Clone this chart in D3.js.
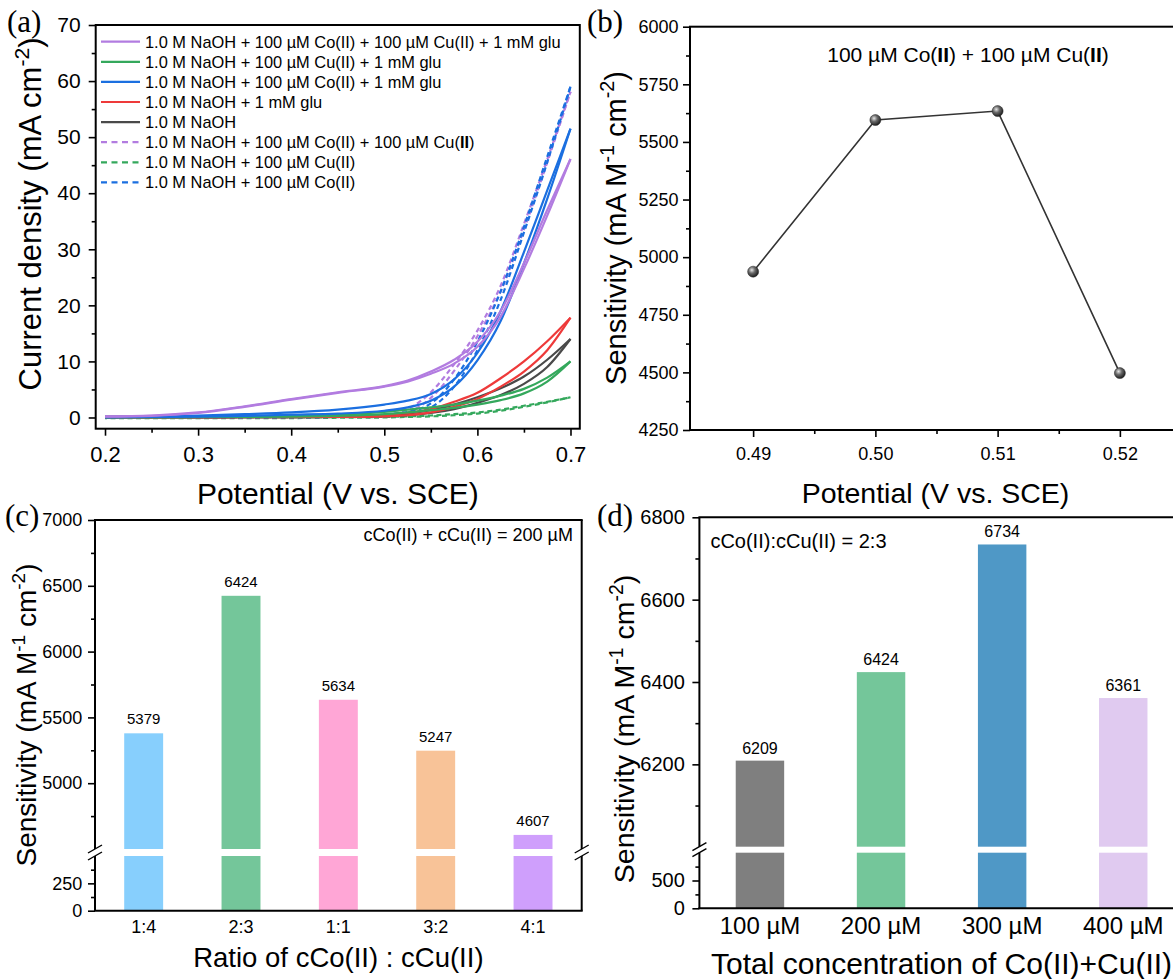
<!DOCTYPE html>
<html>
<head>
<meta charset="utf-8">
<script src="https://cdn.jsdelivr.net/npm/d3@7"></script>
<style>
  body { margin: 0; background: #fff; }
  svg { display: block; }
</style>
</head>
<body>
<svg id="fig" width="1173" height="979"></svg>
<script>
// ---------- data ----------
// (a) CV curves, current density (mA cm-2) at these potentials (V), forward + return sweep
const cvPotential = [0.2, 0.25, 0.3, 0.35, 0.4, 0.45, 0.5, 0.525, 0.55, 0.575, 0.6, 0.625, 0.65, 0.675, 0.7];
const coCuGluFwd = [0.2, 0.35, 0.9, 2.0, 3.3, 4.5, 5.6, 6.6, 8.2, 10.3, 13.5, 19.0, 27.5, 37.0, 46.1];
const coCuGluRev = [0.15, 0.3, 0.8, 1.9, 3.2, 4.4, 5.5, 6.4, 7.8, 9.6, 12.6, 18.0, 26.5, 36.0, 46.1];
const cuGluFwd   = [0.1, 0.1, 0.15, 0.2, 0.3, 0.5, 1.0, 1.4, 1.8, 2.3, 3.0, 3.9, 5.1, 7.1, 10.0];
const cuGluRev   = [0.0, 0.0, 0.05, 0.1, 0.15, 0.3, 0.6, 0.9, 1.3, 1.7, 2.3, 3.1, 4.3, 6.4, 10.0];
const coGluFwd   = [0.1, 0.2, 0.35, 0.6, 0.9, 1.4, 2.3, 3.0, 4.2, 6.8, 11.5, 19.0, 29.5, 40.5, 51.5];
const coGluRev   = [0.0, 0.1, 0.15, 0.3, 0.5, 0.7, 1.2, 1.8, 3.0, 5.5, 10.2, 17.2, 27.5, 39.0, 51.5];
const gluFwd     = [0.1, 0.1, 0.1, 0.1, 0.1, 0.15, 0.4, 0.8, 1.5, 2.8, 4.4, 7.0, 10.0, 13.6, 17.8];
const gluRev     = [0.0, 0.0, 0.0, 0.05, 0.05, 0.1, 0.2, 0.4, 0.9, 1.9, 3.3, 5.5, 8.2, 12.0, 17.8];
const naohFwd    = [0.1, 0.1, 0.1, 0.1, 0.1, 0.15, 0.4, 0.7, 1.3, 2.3, 3.6, 5.2, 7.3, 10.3, 14.0];
const naohRev    = [0.0, 0.0, 0.0, 0.05, 0.05, 0.1, 0.2, 0.4, 0.8, 1.5, 2.6, 4.0, 6.0, 9.0, 14.0];
const coCuFwd    = [0.05, 0.05, 0.05, 0.1, 0.1, 0.15, 0.4, 1.5, 4.5, 9.5, 15.5, 23.5, 34.5, 46.0, 58.1];
const coCuRev    = [0.0, 0.0, 0.0, 0.0, 0.05, 0.1, 0.25, 0.9, 3.5, 8.3, 14.5, 22.5, 33.5, 45.5, 58.1];
const cuFwd      = [0.0, 0.0, 0.0, 0.0, 0.0, 0.05, 0.1, 0.2, 0.35, 0.6, 0.9, 1.4, 2.1, 2.8, 3.6];
const cuRev      = [-0.1, -0.1, -0.1, -0.1, -0.1, -0.05, 0.0, 0.1, 0.2, 0.4, 0.7, 1.2, 1.9, 2.7, 3.6];
const coFwd      = [0.05, 0.05, 0.05, 0.1, 0.1, 0.15, 0.5, 1.0, 2.5, 6.8, 13.5, 22.5, 34.0, 46.5, 59.0];
const coRev      = [0.0, 0.0, 0.0, 0.0, 0.05, 0.1, 0.3, 0.7, 1.8, 5.5, 12.0, 21.0, 33.0, 45.5, 59.0];
const cvLegend = [
  '1.0 M NaOH + 100 µM Co(II) + 100 µM Cu(II) + 1 mM glu',
  '1.0 M NaOH + 100 µM Cu(II) + 1 mM glu',
  '1.0 M NaOH + 100 µM Co(II) + 1 mM glu',
  '1.0 M NaOH + 1 mM glu',
  '1.0 M NaOH',
  '1.0 M NaOH + 100 µM Co(II) + 100 µM Cu(**II**)',
  '1.0 M NaOH + 100 µM Cu(II)',
  '1.0 M NaOH + 100 µM Co(II)'
];
const aXTicks = [0.2, 0.3, 0.4, 0.5, 0.6, 0.7];
const aXMinor = [0.25, 0.35, 0.45, 0.55, 0.65];
const aYTicks = [0, 10, 20, 30, 40, 50, 60, 70];
const aYMinor = [5, 15, 25, 35, 45, 55, 65];

// (b) sensitivity vs potential
const bPotential = [0.49, 0.50, 0.51, 0.52];
const bSensitivity = [4937, 5595, 5634, 4497];
const bXTicks = [0.49, 0.50, 0.51, 0.52];
const bXMinor = [0.495, 0.505, 0.515, 0.525];
const bYTicks = [4250, 4500, 4750, 5000, 5250, 5500, 5750, 6000];
const bYMinor = [4375, 4625, 4875, 5125, 5375, 5625, 5875];

// (c) ratio bars
const ratioLabels = ['1:4', '2:3', '1:1', '3:2', '4:1'];
const ratioSensitivity = [5379, 6424, 5634, 5247, 4607];
const cUpperTicks = [5000, 5500, 6000, 6500, 7000];
const cUpperMinor = [4750, 5250, 5750, 6250, 6750];
const cLowerTicks = [0, 250];
const cLowerMinor = [125, 375];

// (d) total concentration bars
const concLabels = ['100 µM', '200 µM', '300 µM', '400 µM'];
const concSensitivity = [6209, 6424, 6734, 6361];
const dUpperTicks = [6200, 6400, 6600, 6800];
const dUpperMinor = [6100, 6300, 6500, 6700];
const dLowerTicks = [0, 500];
const dLowerMinor = [250, 750];

// ---------- styles ----------
const SANS = "'Liberation Sans', Arial, Helvetica, sans-serif";
const SERIF = "'Liberation Serif', 'Times New Roman', serif";
const PURPLE = '#b27ce0', GREEN = '#34a85c', BLUE = '#1b6fe0', RED = '#ee3a3a', GREY = '#4a4a4a';
const ratioColors = ['#87cffd', '#74c69a', '#ffa6d6', '#f8c398', '#cf9ffc'];
const concColors = ['#7f7f7f', '#74c69a', '#4f98c6', '#e0caf0'];

const svg = d3.select('#fig');

// text with **bold** and ^superscript^ markup
function addText(parent, x, y, str, size, opts = {}) {
  const t = parent.append('text')
    .attr('x', x).attr('y', y)
    .attr('font-size', size)
    .attr('font-family', opts.family || SANS)
    .attr('text-anchor', opts.anchor || 'start')
    .attr('fill', '#000');
  if (opts.rotate) t.attr('transform', `rotate(-90, ${x}, ${y})`);
  const parts = str.split(/(\*\*[^*]+\*\*|\^[^^]+\^)/).filter(s => s.length);
  let shift = 0;
  parts.forEach(p => {
    const s = t.append('tspan');
    if (p.startsWith('^')) {
      s.text(p.slice(1, -1)).attr('font-size', size * 0.68).attr('dy', -size * 0.4);
      shift = size * 0.4;
      return;
    }
    if (p.startsWith('**')) s.text(p.slice(2, -2)).attr('font-weight', 'bold');
    else s.text(p);
    if (shift) { s.attr('dy', shift); shift = 0; }
  });
  return t;
}

function axisTicks(g, axisFn, scale, tx, ty, values, len, fs, pad, fmt) {
  const ax = axisFn(scale).tickValues(values).tickSize(len).tickSizeOuter(0)
    .tickPadding(pad).tickFormat(fmt || '');
  const a = g.append('g').attr('transform', `translate(${tx},${ty})`).call(ax);
  a.select('.domain').remove();
  a.selectAll('line').attr('stroke', '#000').attr('stroke-width', 1.6);
  a.selectAll('text').attr('font-size', fs).attr('font-family', SANS).attr('fill', '#000');
  return a;
}

function seg(g, x1, y1, x2, y2, w) {
  g.append('line').attr('x1', x1).attr('y1', y1).attr('x2', x2).attr('y2', y2)
    .attr('stroke', '#000').attr('stroke-width', w || 2);
}

function breakMark(g, x, y) {
  seg(g, x - 7, y + 4, x + 7, y - 4, 1.4);
}

// ================= (a) =================
{
  const g = svg.append('g');
  const x = d3.scaleLinear().domain([0.19, 0.71]).range([95.7, 579.8]);
  const y = d3.scaleLinear().domain([-2, 70]).range([428.7, 25]);

  const series = [
    { fwd: cuFwd, rev: cuRev, color: GREEN, dash: true },
    { fwd: coCuFwd, rev: coCuRev, color: PURPLE, dash: true },
    { fwd: coFwd, rev: coRev, color: BLUE, dash: true },
    { fwd: naohFwd, rev: naohRev, color: GREY },
    { fwd: gluFwd, rev: gluRev, color: RED },
    { fwd: cuGluFwd, rev: cuGluRev, color: GREEN },
    { fwd: coGluFwd, rev: coGluRev, color: BLUE },
    { fwd: coCuGluFwd, rev: coCuGluRev, color: PURPLE }
  ];
  const line = d3.line().x(d => x(d[0])).y(d => y(d[1])).curve(d3.curveMonotoneX);
  series.forEach(s => {
    [s.fwd, s.rev].forEach((vals, k) => {
      g.append('path')
        .attr('d', line(cvPotential.map((v, i) => [v, vals[i]])))
        .attr('fill', 'none')
        .attr('stroke', s.color)
        .attr('stroke-width', 2.2)
        .attr('stroke-dasharray', s.dash ? '5,3.5' : null)
        .attr('stroke-dashoffset', s.dash ? k * 3 : null);
    });
  });

  g.append('rect').attr('x', 95.7).attr('y', 25).attr('width', 579.8 - 95.7).attr('height', 428.7 - 25)
    .attr('fill', 'none').attr('stroke', '#000').attr('stroke-width', 2);

  axisTicks(g, d3.axisBottom, x, 0, 428.7, aXTicks, 7, 22, 10.5, d => d.toFixed(1));
  axisTicks(g, d3.axisBottom, x, 0, 428.7, aXMinor, 4, 22, 0);
  axisTicks(g, d3.axisLeft, y, 95.7, 0, aYTicks, 7, 21, 8, d => d);
  axisTicks(g, d3.axisLeft, y, 95.7, 0, aYMinor, 4, 21, 0);

  // legend
  const legColors = [PURPLE, GREEN, BLUE, RED, GREY, PURPLE, GREEN, BLUE];
  cvLegend.forEach((lab, i) => {
    const ly = 41.7 + i * 20.1;
    g.append('line').attr('x1', 101).attr('x2', 140).attr('y1', ly).attr('y2', ly)
      .attr('stroke', legColors[i]).attr('stroke-width', 2.2)
      .attr('stroke-dasharray', i >= 5 ? '6,4.5' : null);
    addText(g, 145, ly + 5.8, lab, 16.4);
  });

  addText(g, 337.8, 504, 'Potential (V vs. SCE)', 30, { anchor: 'middle' });
  addText(g, 41, 214, 'Current density (mA cm^-2^)', 31, { anchor: 'middle', rotate: true });
  addText(g, 7, 32, '(a)', 31, { family: SERIF });
}

// ================= (b) =================
{
  const g = svg.append('g');
  const x = d3.scaleLinear().domain([0.485, 0.525]).range([692, 1181]);
  const y = d3.scaleLinear().domain([4250, 6000]).range([430, 26.7]);

  const grad = svg.append('defs').append('radialGradient').attr('id', 'ball')
    .attr('cx', '38%').attr('cy', '35%').attr('r', '65%');
  grad.append('stop').attr('offset', '0%').attr('stop-color', '#e6e6e6');
  grad.append('stop').attr('offset', '45%').attr('stop-color', '#6a6a6a');
  grad.append('stop').attr('offset', '100%').attr('stop-color', '#1e1e1e');

  const pts = bPotential.map((v, i) => [v, bSensitivity[i]]);
  g.append('path').attr('d', d3.line().x(d => x(d[0])).y(d => y(d[1]))(pts))
    .attr('fill', 'none').attr('stroke', '#333').attr('stroke-width', 1.6);
  g.selectAll('circle').data(pts).join('circle')
    .attr('cx', d => x(d[0])).attr('cy', d => y(d[1])).attr('r', 5.5)
    .attr('fill', 'url(#ball)').attr('stroke', '#222').attr('stroke-width', 0.5);

  g.append('rect').attr('x', 690).attr('y', 26.7).attr('width', 1181 - 690).attr('height', 430 - 26.7)
    .attr('fill', 'none').attr('stroke', '#000').attr('stroke-width', 2);

  axisTicks(g, d3.axisBottom, x, 0, 430, bXTicks, 7, 18, 10, d => d.toFixed(2));
  axisTicks(g, d3.axisBottom, x, 0, 430, bXMinor, 4, 18, 0);
  axisTicks(g, d3.axisLeft, y, 690, 0, bYTicks, 7, 18, 4.5, d => d);
  axisTicks(g, d3.axisLeft, y, 690, 0, bYMinor, 4, 18, 0);

  addText(g, 968, 61.5, '100 µM Co(**II**) + 100 µM Cu(**II**)', 21, { anchor: 'middle' });
  addText(g, 935.5, 503, 'Potential (V vs. SCE)', 28.5, { anchor: 'middle' });
  addText(g, 626, 228, 'Sensitivity (mA M^-1^ cm^-2^)', 29, { anchor: 'middle', rotate: true });
  addText(g, 587, 32, '(b)', 31, { family: SERIF });
}

// ============ broken-axis bar panel ============
function brokenBars(opt) {
  const g = svg.append('g');
  const x = d3.scaleBand().domain(opt.labels).range([opt.x0, opt.x1]).paddingInner(0.6).paddingOuter(0.3);
  const yU = d3.scaleLinear().domain(opt.upperDomain).range([opt.upperBottom, opt.top]);
  const yL = d3.scaleLinear().domain(opt.lowerDomain).range([opt.bottom, opt.lowerTop]);
  const rows = opt.labels.map((l, i) => ({ l, v: opt.values[i], c: opt.colors[i] }));

  g.selectAll('rect.up').data(rows).join('rect').attr('class', 'up')
    .attr('x', d => x(d.l)).attr('width', x.bandwidth())
    .attr('y', d => yU(d.v)).attr('height', d => yU(opt.upperDomain[0]) - yU(d.v))
    .attr('fill', d => d.c);
  g.selectAll('rect.lo').data(rows).join('rect').attr('class', 'lo')
    .attr('x', d => x(d.l)).attr('width', x.bandwidth())
    .attr('y', yL(opt.lowerDomain[1])).attr('height', yL(0) - yL(opt.lowerDomain[1]))
    .attr('fill', d => d.c);
  g.selectAll('text.val').data(rows).join('text').attr('class', 'val')
    .attr('x', d => x(d.l) + x.bandwidth() / 2).attr('y', d => yU(d.v) - opt.valGap)
    .attr('text-anchor', 'middle').attr('font-family', SANS).attr('font-size', opt.valSize)
    .text(d => d.v);

  // frame
  seg(g, opt.x0 - 1, opt.top, opt.xr + 1, opt.top);
  seg(g, opt.x0 - 1, opt.bottom, opt.xr + 1, opt.bottom);
  [opt.x0, opt.xr].forEach(xx => {
    seg(g, xx, opt.top, xx, opt.upperBottom);
    seg(g, xx, opt.lowerTop, xx, opt.bottom);
    breakMark(g, xx, opt.upperBottom);
    breakMark(g, xx, opt.lowerTop);
  });

  axisTicks(g, d3.axisLeft, yU, opt.x0, 0, opt.upperTicks, 7, opt.yFs, opt.yPad, d => d);
  axisTicks(g, d3.axisLeft, yU, opt.x0, 0, opt.upperMinor, 4, opt.yFs, 0);
  axisTicks(g, d3.axisLeft, yL, opt.x0, 0, opt.lowerTicks, 7, opt.yFs, opt.yPad, d => d);
  axisTicks(g, d3.axisLeft, yL, opt.x0, 0, opt.lowerMinor, 4, opt.yFs, 0);
  axisTicks(g, d3.axisBottom, x, 0, opt.bottom, opt.labels, 0, opt.xFs, opt.xPad, d => d);
  return g;
}

// ================= (c) =================
{
  const g = brokenBars({
    labels: ratioLabels, values: ratioSensitivity, colors: ratioColors,
    x0: 95, x1: 581.7, xr: 581.7, top: 520, upperBottom: 849, lowerTop: 856, bottom: 910.7,
    upperDomain: [4500, 7000], lowerDomain: [0, 500],
    upperTicks: cUpperTicks, upperMinor: cUpperMinor, lowerTicks: cLowerTicks, lowerMinor: cLowerMinor,
    yFs: 18, yPad: 5.7, xFs: 18, xPad: 9.5, valSize: 15, valGap: 9
  });
  addText(g, 573, 541, 'cCo(II) + cCu(II) = 200 µM', 18, { anchor: 'end' });
  addText(g, 338.4, 967, 'Ratio of cCo(II) : cCu(II)', 27.5, { anchor: 'middle' });
  addText(g, 36, 715, 'Sensitivity (mA M^-1^ cm^-2^)', 28, { anchor: 'middle', rotate: true });
  addText(g, 5, 526, '(c)', 31, { family: SERIF });
}

// ================= (d) =================
{
  const g = brokenBars({
    labels: concLabels, values: concSensitivity, colors: concColors,
    x0: 699.4, x1: 1183.8, xr: 1183.8, top: 517.3, upperBottom: 846.7, lowerTop: 852.7, bottom: 908.3,
    upperDomain: [6000, 6800], lowerDomain: [0, 1000],
    upperTicks: dUpperTicks, upperMinor: dUpperMinor, lowerTicks: dLowerTicks, lowerMinor: dLowerMinor,
    yFs: 20, yPad: 7.6, xFs: 24, xPad: 9, valSize: 16, valGap: 7
  });
  addText(g, 710.4, 548, 'cCo(II):cCu(II) = 2:3', 20);
  addText(g, 941.6, 974, 'Total concentration of Co(II)+Cu(II)', 30, { anchor: 'middle' });
  addText(g, 634, 729, 'Sensitivity (mA M^-1^ cm^-2^)', 28.5, { anchor: 'middle', rotate: true });
  addText(g, 597, 526, '(d)', 31, { family: SERIF });
}
</script>
</body>
</html>
